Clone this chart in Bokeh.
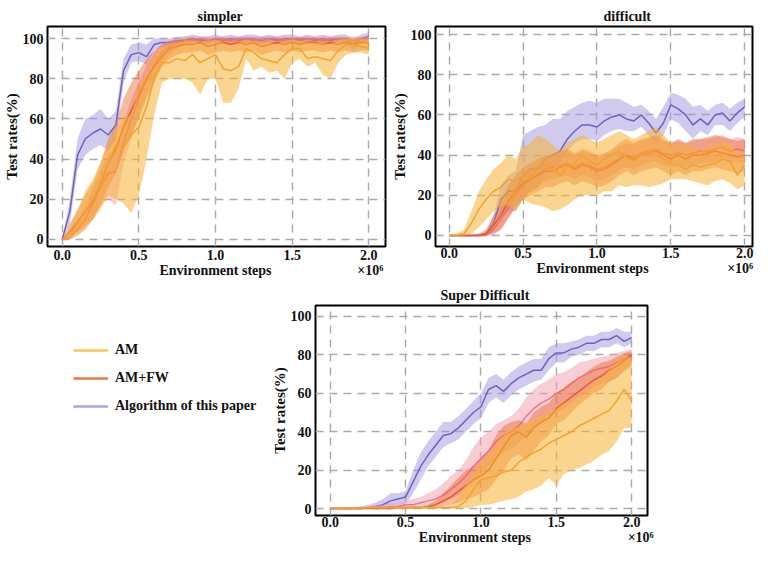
from bokeh.plotting import figure
from bokeh.layouts import column, row
from bokeh.models import Range1d, FixedTicker, Legend, LegendItem, LinearAxis
from bokeh.embed import file_html
from bokeh.resources import INLINE

# ---------------- data (x in units of 1e6 environment steps) ----------------
steps = [0.0, 0.05, 0.1, 0.15, 0.2, 0.25, 0.3, 0.35, 0.4, 0.45, 0.5, 0.55, 0.6, 0.65,
         0.7, 0.75, 0.8, 0.85, 0.9, 0.95, 1.0, 1.05, 1.1, 1.15, 1.2, 1.25, 1.3, 1.35,
         1.4, 1.45, 1.5, 1.55, 1.6, 1.65, 1.7, 1.75, 1.8, 1.85, 1.9, 1.95, 2.0]
x_ticks = [0.0, 0.5, 1.0, 1.5, 2.0]
y_ticks = [0, 20, 40, 60, 80, 100]
series_names = ["AM", "AM+FW", "Algorithm of this paper"]

# simpler
am_s = [0, 3, 8, 14, 20, 27, 38, 47, 46, 52, 56, 66, 80, 88, 88, 90, 89, 92, 88, 90, 92,
        85, 84, 86, 95, 93, 90, 89, 88, 92, 95, 95, 90, 91, 90, 89, 94, 97, 97, 96, 95]
am_s_lo = [0, 0, 2, 5, 10, 15, 22, 20, 18, 13, 22, 40, 62, 78, 80, 80, 80, 78, 72, 80, 80,
           68, 68, 75, 90, 84, 86, 83, 84, 80, 88, 90, 86, 88, 82, 80, 88, 92, 93, 93, 92]
am_s_hi = [0, 6, 14, 24, 30, 38, 48, 55, 60, 62, 75, 82, 90, 95, 97, 98, 99, 99, 98, 99, 99,
           98, 96, 98, 99, 99, 98, 98, 97, 99, 99, 99, 98, 98, 98, 97, 99, 100, 100, 100, 99]
fw_s = [0, 4, 9, 14, 19, 28, 38, 45, 56, 64, 72, 80, 86, 91, 95, 96, 97, 97, 98, 96, 97,
        98, 97, 98, 97, 98, 96, 97, 98, 97, 98, 97, 98, 98, 97, 98, 97, 98, 97, 98, 98]
fw_s_lo = [0, 1, 4, 7, 10, 17, 26, 33, 44, 52, 60, 70, 78, 86, 90, 92, 93, 93, 94, 92, 93,
           94, 93, 94, 93, 94, 92, 93, 94, 93, 94, 93, 94, 94, 93, 94, 93, 94, 93, 94, 94]
fw_s_hi = [0, 8, 15, 22, 28, 38, 50, 58, 70, 78, 84, 90, 94, 97, 99, 99, 100, 100, 100, 99, 100,
           100, 100, 100, 100, 100, 99, 100, 100, 100, 100, 100, 100, 100, 100, 100, 100, 100, 100, 100, 100]
pk_s = [0, 1, 5, 10, 18, 26, 33, 34, 48, 60, 70, 80, 87, 93, 96, 98, 99, 99, 100, 99, 100,
        100, 99, 100, 100, 99, 100, 100, 100, 99, 100, 100, 100, 100, 99, 100, 100, 100, 99, 100, 100]
pk_s_lo = [0, 0, 2, 5, 10, 17, 20, 17, 38, 50, 62, 72, 80, 88, 92, 95, 97, 97, 98, 97, 98,
           98, 97, 98, 98, 97, 98, 98, 98, 97, 98, 98, 98, 98, 97, 98, 98, 98, 97, 98, 98]
pk_s_hi = [0, 3, 9, 16, 25, 34, 42, 45, 58, 70, 78, 87, 93, 97, 99, 100, 101, 101, 101, 101, 101,
           101, 101, 101, 101, 101, 101, 101, 101, 101, 101, 101, 101, 101, 101, 101, 101, 101, 101, 101, 101]
alg_s = [0, 14, 42, 50, 53, 55, 52, 57, 84, 92, 93, 91, 97, 98, 98, 99, 99, 100, 99, 99, 100,
         99, 100, 99, 100, 100, 99, 100, 99, 100, 100, 99, 100, 99, 100, 99, 100, 100, 97, 100, 101]
alg_s_lo = [0, 8, 35, 42, 45, 47, 44, 50, 78, 88, 89, 87, 94, 96, 96, 97, 97, 98, 97, 97, 98,
            97, 98, 97, 98, 98, 97, 98, 97, 98, 98, 97, 98, 97, 98, 97, 98, 98, 94, 98, 99]
alg_s_hi = [0, 20, 50, 60, 62, 65, 60, 64, 90, 97, 98, 97, 100, 100, 100, 101, 101, 102, 101, 101, 102,
            101, 102, 101, 102, 102, 101, 102, 101, 102, 102, 101, 102, 101, 102, 101, 102, 102, 100, 102, 103]

# difficult
am_d = [0, 0, 1, 6, 13, 18, 22, 24, 28, 27, 30, 29, 34, 35, 33, 30, 34, 36, 40, 37, 35,
        38, 40, 42, 39, 37, 40, 42, 40, 38, 36, 35, 33, 35, 34, 35, 36, 38, 37, 30, 35]
am_d_lo = [0, 0, 0, 1, 4, 8, 12, 15, 15, 12, 18, 16, 15, 14, 12, 13, 15, 18, 20, 20, 20,
           22, 22, 25, 24, 25, 25, 24, 25, 26, 28, 28, 28, 27, 26, 25, 27, 28, 26, 23, 25]
am_d_hi = [0, 1, 3, 12, 22, 28, 33, 36, 40, 38, 44, 46, 50, 48, 45, 42, 46, 48, 50, 48, 46,
           48, 50, 52, 50, 48, 50, 52, 54, 50, 46, 45, 45, 44, 42, 44, 45, 47, 46, 40, 42]
fw_d = [0, 0, 0, 0, 0, 1, 5, 10, 17, 22, 26, 28, 30, 32, 32, 34, 35, 33, 35, 34, 32,
        33, 35, 38, 40, 38, 40, 41, 42, 40, 38, 40, 38, 40, 40, 41, 42, 41, 40, 39, 40]
fw_d_lo = [0, 0, 0, 0, 0, 0, 1, 3, 9, 14, 18, 20, 22, 24, 24, 26, 27, 25, 27, 26, 24,
           25, 27, 30, 32, 30, 32, 33, 34, 32, 30, 32, 30, 32, 32, 33, 34, 33, 32, 31, 32]
fw_d_hi = [0, 0, 0, 0, 1, 3, 10, 17, 25, 30, 34, 36, 38, 40, 40, 42, 43, 41, 43, 42, 40,
           41, 43, 46, 48, 46, 48, 49, 50, 48, 46, 48, 46, 48, 48, 49, 50, 49, 48, 47, 48]
pk_d = [0, 0, 0, 0, 0, 0, 3, 8, 14, 20, 25, 28, 30, 33, 34, 35, 36, 34, 36, 35, 33,
        34, 36, 38, 40, 39, 41, 42, 43, 41, 40, 41, 40, 41, 42, 42, 43, 44, 42, 43, 42]
pk_d_lo = [0, 0, 0, 0, 0, 0, 0, 3, 8, 14, 19, 22, 24, 27, 28, 29, 30, 28, 30, 29, 27,
           28, 30, 32, 34, 33, 35, 36, 37, 35, 34, 35, 34, 35, 36, 36, 37, 38, 36, 37, 36]
pk_d_hi = [0, 0, 0, 0, 0, 1, 7, 14, 20, 26, 31, 34, 36, 39, 40, 41, 42, 40, 42, 41, 39,
           40, 42, 44, 46, 45, 47, 48, 49, 47, 46, 47, 46, 47, 48, 48, 49, 50, 48, 49, 48]
alg_d = [0, 0, 0, 0, 0, 1, 6, 18, 22, 22, 30, 33, 33, 38, 40, 42, 48, 52, 55, 55, 54,
         57, 59, 60, 58, 57, 60, 56, 51, 56, 65, 63, 60, 55, 58, 55, 60, 61, 57, 61, 64]
alg_d_lo = [0, 0, 0, 0, 0, 0, 2, 10, 12, 12, 18, 22, 24, 30, 33, 36, 42, 46, 48, 48, 47,
            50, 52, 53, 52, 52, 54, 50, 45, 50, 58, 56, 52, 48, 52, 50, 55, 55, 52, 56, 59]
alg_d_hi = [0, 0, 0, 0, 0, 2, 10, 25, 30, 32, 50, 52, 54, 55, 58, 58, 62, 64, 66, 67, 66,
            68, 68, 68, 66, 64, 65, 62, 58, 64, 71, 70, 68, 64, 65, 62, 65, 66, 63, 66, 68]

# super difficult
am_u = [0, 0, 0, 0, 0, 0.5, 0.5, 0.5, 0.5, 0.5, 0.5, 0.5, 0.5, 0.5, 0.5, 0.5, 0.5, 1, 4, 10, 15,
        16, 17, 19, 20, 24, 27, 29, 31, 34, 36, 38, 40, 43, 45, 47, 49, 51, 56, 62, 56]
am_u_lo = [0, 0, 0, 0, 0, 0, 0, 0, 0, 0, 0, 0, 0, 0, 0, 0, 0, 0, 0, 1, 2,
           2, 3, 4, 5, 6, 9, 10, 12, 16, 12, 18, 20, 21, 23, 25, 28, 30, 35, 42, 42]
am_u_hi = [0, 0, 0, 0, 0, 1, 1, 1, 1, 1, 1, 1, 1, 1, 1, 1, 2, 6, 12, 18, 24,
           28, 33, 38, 42, 42, 45, 46, 48, 50, 52, 55, 56, 58, 62, 65, 68, 72, 76, 80, 78]
fw_u = [0, 0, 0, 0, 0, 0, 0, 0, 0, 0.5, 0.5, 0.5, 0.5, 1, 2, 4, 6, 9, 12, 15, 17,
        20, 26, 32, 38, 40, 37, 42, 45, 47, 52, 55, 58, 61, 64, 67, 69, 72, 74, 77, 80]
fw_u_lo = [0, 0, 0, 0, 0, 0, 0, 0, 0, 0, 0, 0, 0, 0, 0, 1, 2, 3, 5, 6, 8,
           10, 15, 20, 26, 28, 25, 30, 35, 38, 44, 46, 50, 54, 57, 60, 62, 66, 68, 72, 75]
fw_u_hi = [0, 0, 0, 0, 0, 0, 0, 0, 0, 1, 1, 1, 1, 2, 4, 8, 12, 16, 20, 22, 26,
           30, 38, 43, 45, 46, 44, 50, 53, 55, 60, 63, 66, 68, 71, 74, 76, 77, 79, 81, 82]
pk_u = [0, 0, 0, 0, 0, 0.5, 0.5, 0.5, 1, 1, 2, 2, 3, 4, 5, 7, 10, 13, 17, 22, 26,
        30, 35, 38, 40, 43, 48, 52, 55, 57, 60, 62, 65, 68, 70, 72, 73, 74, 76, 78, 80]
pk_u_lo = [0, 0, 0, 0, 0, 0, 0, 0, 0, 0, 0, 0, 1, 1, 2, 3, 5, 7, 10, 14, 18,
           22, 26, 29, 31, 34, 38, 42, 45, 47, 50, 52, 55, 58, 60, 63, 65, 66, 68, 71, 74]
pk_u_hi = [0, 0, 0, 1, 1, 1, 2, 2, 3, 3, 4, 5, 6, 8, 10, 13, 17, 20, 25, 32, 37,
           40, 44, 46, 48, 52, 58, 62, 65, 67, 70, 71, 73, 76, 77, 78, 79, 80, 81, 82, 83]
alg_u = [0, 0, 0, 0, 0, 0.5, 1, 2, 4, 5, 6, 14, 22, 28, 33, 38, 39, 42, 46, 50, 53,
         62, 64, 61, 65, 68, 70, 72, 72, 78, 81, 81, 83, 84, 86, 86, 88, 88, 90, 87, 89]
alg_u_lo = [0, 0, 0, 0, 0, 0, 0, 0, 1, 1, 2, 8, 15, 22, 27, 32, 34, 36, 40, 44, 47,
            55, 58, 55, 59, 62, 64, 66, 67, 72, 76, 76, 79, 80, 82, 82, 84, 84, 86, 84, 86]
alg_u_hi = [0, 0, 0, 0, 1, 2, 3, 5, 8, 8, 9, 20, 29, 35, 40, 45, 45, 48, 52, 56, 60,
            68, 70, 67, 71, 74, 76, 78, 78, 84, 86, 86, 87, 88, 90, 90, 92, 92, 94, 92, 92]

# ---------------- styling ----------------
FONT = "Liberation Serif"
BAND = {"alg": "#a496e0", "pk": "#f19cae", "fw": "#e9692f", "am": "#f5b334"}
BAND_A = {"alg": 0.5, "pk": 0.5, "fw": 0.45, "am": 0.55}
LINE = {"alg": "#6d61c2", "pk": "#e8788c", "fw": "#e65e22", "am": "#f0a330"}
LEG = {"am": "#f6c65a", "fw": "#e47a45", "alg": "#b89de3"}
TXT = "#111111"


def style_text_axis(ax):
    ax.axis_line_color = None
    ax.major_tick_line_color = None
    ax.minor_tick_line_color = None
    ax.major_tick_out = 0
    ax.major_tick_in = 0
    ax.minor_tick_out = 0
    ax.minor_tick_in = 0
    ax.major_label_text_font = FONT
    ax.major_label_text_font_style = "bold"
    ax.major_label_text_font_size = "14px"
    ax.major_label_text_color = TXT


def make_fig(width, height, xr, yr, bl, br, bt, bb, title, title_offset, xstand, note_pos):
    p = figure(width=width, height=height, output_backend="svg", toolbar_location=None,
               x_range=Range1d(*xr), y_range=Range1d(*yr),
               min_border_left=bl, min_border_right=br, min_border_top=bt, min_border_bottom=bb)
    p.title.text = title
    p.title.align = "left"
    p.title.offset = title_offset
    p.title.standoff = 6
    p.title.text_font = FONT
    p.title.text_font_style = "bold"
    p.title.text_font_size = "14px"
    p.title.text_color = TXT
    p.outline_line_color = "black"
    p.outline_line_width = 2
    p.outline_line_alpha = 1
    p.border_fill_color = "white"
    for ax in (p.xaxis[0], p.yaxis[0]):
        style_text_axis(ax)
        ax.axis_label_text_font = FONT
        ax.axis_label_text_font_style = "bold"
        ax.axis_label_text_color = TXT
        ax.axis_label_standoff = 0
    p.xaxis.ticker = FixedTicker(ticks=x_ticks)
    p.xaxis.major_label_overrides = {t: "%.1f" % t for t in x_ticks}
    p.xaxis.major_label_standoff = xstand
    p.yaxis.ticker = FixedTicker(ticks=y_ticks)
    p.yaxis.axis_label = "Test rates(%)"
    p.yaxis.axis_label_text_font_size = "15px"
    p.yaxis.major_label_standoff = 4
    # second row under the tick labels: the axis title and the x10^6 multiplier
    note = LinearAxis(ticker=FixedTicker(ticks=list(note_pos)),
                      major_label_overrides={note_pos[0]: "Environment steps", note_pos[1]: "×10⁶"},
                      major_label_standoff=0)
    style_text_axis(note)
    p.add_layout(note, "below")
    for g in (p.xgrid[0], p.ygrid[0]):
        g.grid_line_color = "#aaaaaa"
        g.grid_line_width = 1.4
        g.grid_line_dash = "8 6"
    return p


def draw(p, data):
    for key in ("alg", "pk", "fw", "am"):
        mean, lo, hi = data[key]
        p.varea(x=steps, y1=lo, y2=hi, fill_color=BAND[key], fill_alpha=BAND_A[key])
        p.line(x=steps, y=mean, line_color=LINE[key], line_width=1.5)


# simpler
p1 = make_fig(388, 282, (-0.096, 2.109), (-3.5, 106.0), 42, 3, 26, 36, "simpler", 150, 3, (1.0, 2.01))
draw(p1, {"alg": (alg_s, alg_s_lo, alg_s_hi), "pk": (pk_s, pk_s_lo, pk_s_hi),
          "fw": (fw_s, fw_s_lo, fw_s_hi), "am": (am_s, am_s_lo, am_s_hi)})

# difficult
p2 = make_fig(366, 282, (-0.093, 2.053), (-5.5, 104.0), 42, 2, 26, 36, "difficult", 168, 1, (0.97, 1.97))
draw(p2, {"alg": (alg_d, alg_d_lo, alg_d_hi), "pk": (pk_d, pk_d_lo, pk_d_hi),
          "fw": (fw_d, fw_d_lo, fw_d_hi), "am": (am_d, am_d_lo, am_d_hi)})

# super difficult
p3 = make_fig(392, 266, (-0.098, 2.105), (-3.6, 105.7), 42, 13, 23, 33, "Super Difficult", 125, 1, (0.96, 2.06))
draw(p3, {"alg": (alg_u, alg_u_lo, alg_u_hi), "pk": (pk_u, pk_u_lo, pk_u_hi),
          "fw": (fw_u, fw_u_lo, fw_u_hi), "am": (am_u, am_u_lo, am_u_hi)})

# legend panel to the left of the bottom chart
pl = figure(width=268, height=266, output_backend="svg", toolbar_location=None,
            x_range=Range1d(-1, 0), y_range=Range1d(-1, 0),
            min_border_left=0, min_border_right=0, min_border_top=23, min_border_bottom=33,
            x_axis_location=None, y_axis_location=None)
pl.outline_line_color = None
pl.xgrid.visible = False
pl.ygrid.visible = False
leg_renderers = []
for key, mean in (("am", am_u), ("fw", fw_u), ("alg", alg_u)):
    r = pl.line(x=steps, y=mean, line_color=LEG[key], line_width=2.5, visible=False)
    leg_renderers.append(r)
legend = Legend(items=[LegendItem(label=n, renderers=[r]) for n, r in zip(series_names, leg_renderers)],
                location=(73, 99), orientation="vertical",
                glyph_width=35, glyph_height=20, label_height=20, label_standoff=7, spacing=8,
                padding=0, margin=0, border_line_color=None, background_fill_alpha=0,
                label_text_font=FONT, label_text_font_style="bold", label_text_font_size="14px",
                label_text_color=TXT, click_policy="none")
pl.add_layout(legend, "center")

layout = column(row(p1, p2), row(pl, p3))
open("out.html", "w").write(file_html(layout, INLINE))
